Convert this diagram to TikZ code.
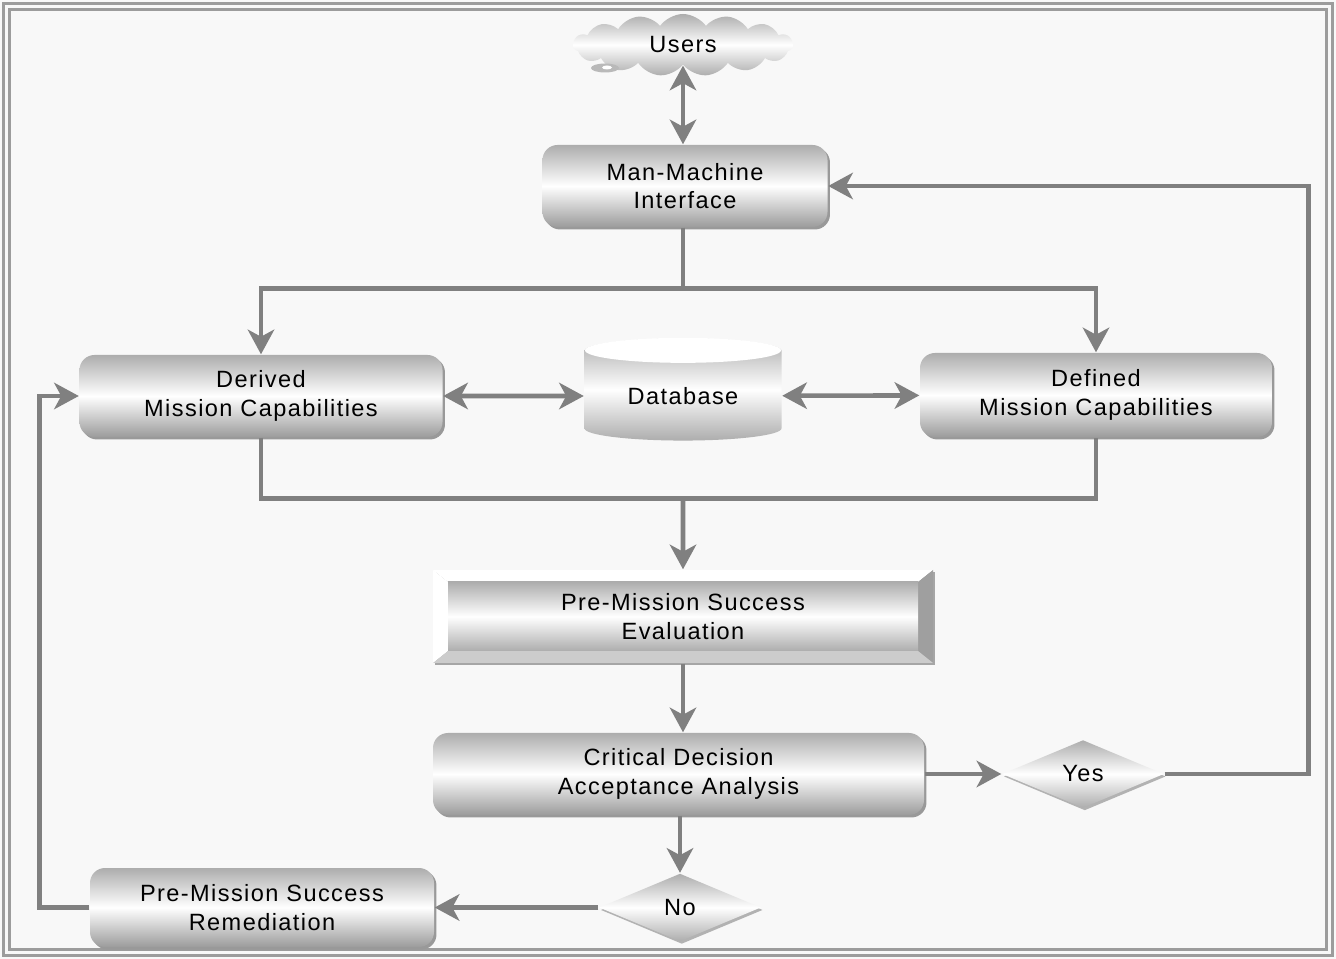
\documentclass[tikz,border=0pt]{standalone}
\usepackage{fontspec}
\setmainfont{Liberation Sans}[LetterSpace=6.0]
\usepackage{tikz}
\usetikzlibrary{arrows.meta,shapes.geometric,shapes.symbols,shadows,calc}
\definecolor{linegray}{HTML}{808080}
\definecolor{framegray}{HTML}{9C9C9C}
\definecolor{bgcol}{HTML}{F8F8F8}
\definecolor{boxgray}{HTML}{ADADAD}

\begin{document}
\begin{tikzpicture}[
  every node/.style={font=\fontsize{6.7}{8.2}\selectfont, align=center},
  box/.style={rectangle, rounded corners=0.15cm, top color=boxgray, bottom color=boxgray!90!black, middle color=white,
    drop shadow={shadow xshift=0.7pt, shadow yshift=-0.7pt, fill=gray!80, opacity=1}},
  choice/.style={diamond, inner sep=0pt, aspect=2.35, top color=boxgray, bottom color=boxgray, middle color=white,
    minimum width=1.62cm, minimum height=0.68cm,
    drop shadow={shadow xshift=0.5pt, shadow yshift=-0.7pt, fill=gray!60, opacity=1}},
  link/.style={draw=linegray, line width=1.3pt, -{Stealth[length=7pt,width=7.5pt,inset=2pt]}},
  plain/.style={draw=linegray, line width=1.3pt},
  both/.style={link, {Stealth[length=7pt,width=7.5pt,inset=2pt]}-{Stealth[length=7pt,width=7.5pt,inset=2pt]}},
]
% frame
\fill[bgcol] (0,0) rectangle (13.36,-9.59);
\draw[framegray, line width=0.7pt] (0.035,-0.035) rectangle (13.325,-9.555);
\draw[framegray, line width=0.7pt] (0.095,-0.095) rectangle (13.265,-9.495);

% nodes
\node[cloud, cloud puffs=15, cloud puff arc=110, aspect=3.6, inner sep=0pt, minimum width=2.2cm, minimum height=0.62cm,
  top color=boxgray, bottom color=boxgray, middle color=white] (users) at (6.83,-0.45) {Users};
\fill[gray!55] (6.05,-0.68) ellipse (0.14 and 0.045);
\fill[white] (6.07,-0.675) ellipse (0.05 and 0.02);
\node[box, minimum width=2.85cm, minimum height=0.82cm] (mmi) at (6.85,-1.86) {Man-Machine\\Interface};
\node[box, minimum width=3.63cm, minimum height=0.82cm] (derived) at (2.61,-3.96) {Derived\\Mission Capabilities};
\node[cylinder, shape border rotate=90, aspect=0.22, inner sep=0pt, minimum width=1.97cm, minimum height=1.02cm,
  top color=boxgray, bottom color=boxgray, middle color=white] (db) at (6.83,-3.96) {Database};
\fill[white] ($(db.north)+(0,-0.125)$) ellipse (0.98 and 0.125);
\node[box, minimum width=3.52cm, minimum height=0.84cm] (defined) at (10.96,-3.95) {Defined\\Mission Capabilities};
\node[rectangle, inner sep=0pt, minimum width=5cm, minimum height=0.93cm,
  drop shadow={shadow xshift=0.7pt, shadow yshift=-0.7pt, fill=gray!70, opacity=1},
  path picture={
    \coordinate (nw) at (path picture bounding box.north west);
    \coordinate (ne) at (path picture bounding box.north east);
    \coordinate (sw) at (path picture bounding box.south west);
    \coordinate (se) at (path picture bounding box.south east);
    \fill[white] (nw) -- (ne) -- ($(ne)+(-0.15,-0.12)$) -- ($(nw)+(0.15,-0.12)$) -- cycle;
    \fill[white] (nw) -- (sw) -- ($(sw)+(0.15,0.12)$) -- ($(nw)+(0.15,-0.12)$) -- cycle;
    \fill[gray!75] (ne) -- (se) -- ($(se)+(-0.15,0.12)$) -- ($(ne)+(-0.15,-0.12)$) -- cycle;
    \fill[gray!40] (sw) -- (se) -- ($(se)+(-0.15,0.12)$) -- ($(sw)+(0.15,0.12)$) -- cycle;
    \shade[top color=boxgray, bottom color=boxgray, middle color=white] ($(nw)+(0.15,-0.12)$) rectangle ($(se)+(-0.15,0.12)$);
  }] (eval) at (6.83,-6.165) {Pre-Mission Success\\Evaluation};
\node[box, minimum width=4.91cm, minimum height=0.82cm] (crit) at (6.785,-7.74) {Critical Decision\\Acceptance Analysis};
\node[choice] (yes) at (10.83,-7.74) {Yes};
\node[choice] (no) at (6.80,-9.075) {No};
\node[box, minimum width=3.44cm, minimum height=0.79cm] (remed) at (2.62,-9.075) {Pre-Mission Success\\Remediation};

% connectors
\draw[both] (users.south) -- (users.south |- mmi.north);
\draw[plain] (users.south |- mmi.south) -- ++(0,-0.61) coordinate (split);
\draw[link] (split) -| (derived.north);
\draw[link] (split) -| (defined.north);
\draw[both] (derived) -- (db);
\draw[both] (db) -- (defined);
\coordinate (merge) at ($(split)+(0,-2.1)$);
\draw[plain] (derived.south) |- (merge) -| (defined.south);
\draw[link] (merge) -- (eval.north);
\draw[link] (eval.south) -- (crit.north -| eval.south);
\draw[link] (crit.east) -- (yes.west);
\draw[link] (yes.east) -- ++(1.44,0) |- (mmi.east);
\draw[link] (crit.south -| no.north) -- (no.north);
\draw[link] (no.west) -- (remed.east);
\draw[link] (remed.west) -- ++(-0.5,0) |- (derived.west);
\end{tikzpicture}
\end{document}
